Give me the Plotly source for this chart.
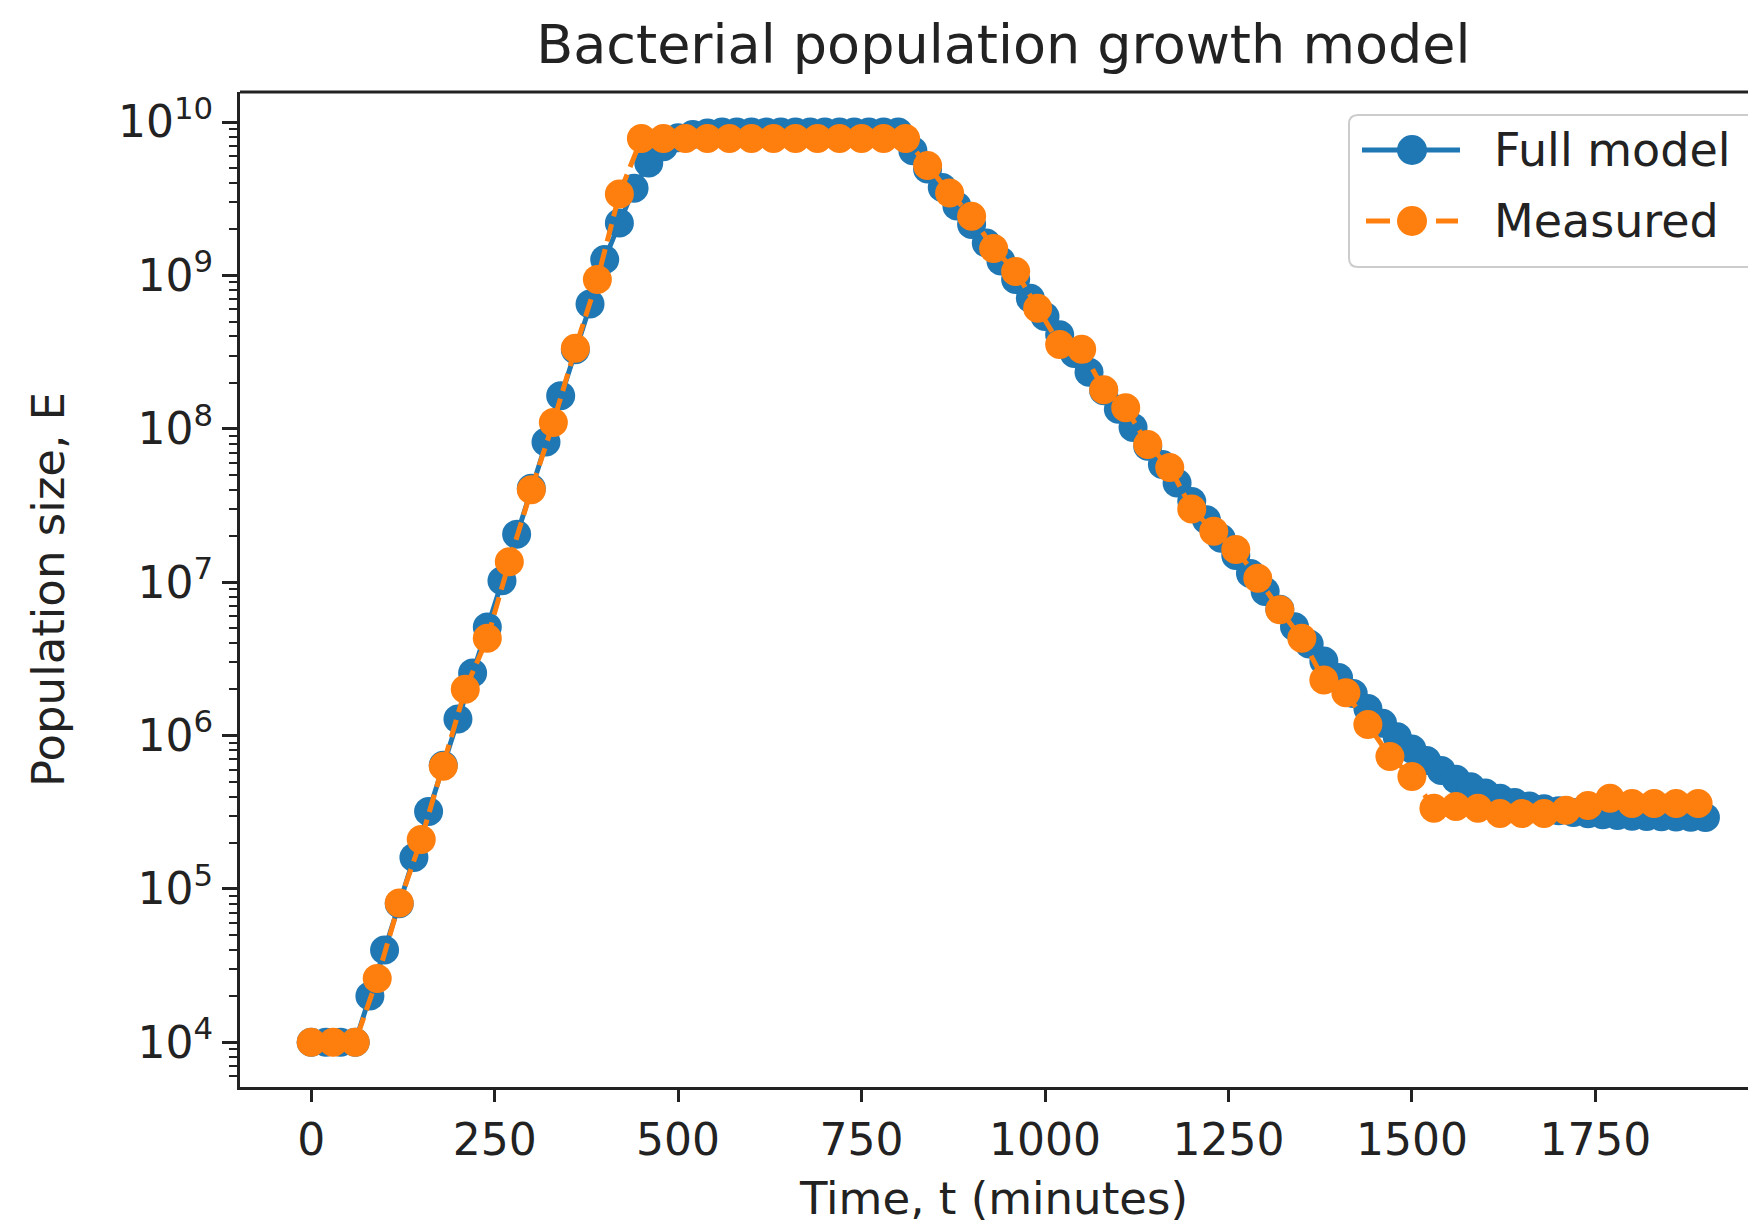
import plotly.graph_objects as go

# ---- data ----
time_model = [0, 20, 40, 60, 80, 100, 120, 140, 160, 180,
              200, 220, 240, 260, 280, 300, 320, 340, 360, 380,
              400, 420, 440, 460, 480, 500, 520, 540, 560, 580,
              600, 620, 640, 660, 680, 700, 720, 740, 760, 780,
              800, 820, 840, 860, 880, 900, 920, 940, 960, 980,
              1000, 1020, 1040, 1060, 1080, 1100, 1120, 1140, 1160, 1180,
              1200, 1220, 1240, 1260, 1280, 1300, 1320, 1340, 1360, 1380,
              1400, 1420, 1440, 1460, 1480, 1500, 1520, 1540, 1560, 1580,
              1600, 1620, 1640, 1660, 1680, 1700, 1720, 1740, 1760, 1780,
              1800, 1820, 1840, 1860, 1880, 1900]
pop_model = [1.0e4, 1.0e4, 1.0e4, 1.0e4, 2.0e4, 4.0e4, 8.0e4, 1.6e5, 3.2e5, 6.4e5,
             1.28e6, 2.56e6, 5.1e6, 1.02e7, 2.05e7, 4.1e7, 8.2e7, 1.64e8, 3.27e8, 6.5e8,
             1.27e9, 2.2e9, 3.7e9, 5.4e9, 6.9e9, 7.9e9, 8.3e9, 8.5e9, 8.6e9, 8.6e9,
             8.6e9, 8.6e9, 8.6e9, 8.6e9, 8.6e9, 8.6e9, 8.6e9, 8.6e9, 8.6e9, 8.6e9,
             8.6e9, 6.5e9, 4.94e9, 3.74e9, 2.84e9, 2.15e9, 1.63e9, 1.24e9, 9.4e8, 7.1e8,
             5.4e8, 4.1e8, 3.1e8, 2.34e8, 1.77e8, 1.34e8, 1.02e8, 7.7e7, 5.85e7, 4.43e7,
             3.36e7, 2.55e7, 1.93e7, 1.49e7, 1.14e7, 8.7e6, 6.66e6, 5.12e6, 3.95e6, 3.06e6,
             2.39e6, 1.88e6, 1.50e6, 1.2e6, 9.8e5, 8.15e5, 6.88e5, 5.92e5, 5.19e5, 4.63e5,
             4.21e5, 3.9e5, 3.66e5, 3.47e5, 3.33e5, 3.23e5, 3.15e5, 3.09e5, 3.04e5, 3.01e5,
             2.98e5, 2.96e5, 2.95e5, 2.94e5, 2.93e5, 2.92e5]

time_measured = [0, 30, 60, 90, 120, 150, 180, 210, 240, 270,
                 300, 330, 360, 390, 420, 450, 480, 510, 540, 570,
                 600, 630, 660, 690, 720, 750, 780, 810, 840, 870,
                 900, 930, 960, 990, 1020, 1050, 1080, 1110, 1140, 1170,
                 1200, 1230, 1260, 1290, 1320, 1350, 1380, 1410, 1440, 1470,
                 1500, 1530, 1560, 1590, 1620, 1650, 1680, 1710, 1740, 1770,
                 1800, 1830, 1860, 1890]
pop_measured = [1.0e4, 1.0e4, 1.0e4, 2.6e4, 8.1e4, 2.1e5, 6.3e5, 2.0e6, 4.3e6, 1.36e7,
                4.0e7, 1.1e8, 3.35e8, 9.4e8, 3.4e9, 7.8e9, 7.8e9, 7.8e9, 7.8e9, 7.8e9,
                7.8e9, 7.8e9, 7.8e9, 7.8e9, 7.8e9, 7.8e9, 7.8e9, 7.8e9, 5.2e9, 3.45e9,
                2.43e9, 1.5e9, 1.06e9, 6.1e8, 3.55e8, 3.3e8, 1.8e8, 1.37e8, 7.9e7, 5.6e7,
                3.0e7, 2.15e7, 1.63e7, 1.06e7, 6.6e6, 4.3e6, 2.3e6, 1.9e6, 1.18e6, 7.3e5,
                5.4e5, 3.35e5, 3.45e5, 3.35e5, 3.1e5, 3.1e5, 3.1e5, 3.25e5, 3.5e5, 3.9e5,
                3.6e5, 3.6e5, 3.6e5, 3.6e5]

series_names = ["Full model", "Measured"]
series_colors = ["#1f77b4", "#ff7f0e"]

x_tick_vals = [0, 250, 500, 750, 1000, 1250, 1500, 1750]
y_tick_vals = [1e4, 1e5, 1e6, 1e7, 1e8, 1e9, 1e10]
y_tick_text = ["10<sup>4</sup>", "10<sup>5</sup>", "10<sup>6</sup>", "10<sup>7</sup>",
               "10<sup>8</sup>", "10<sup>9</sup>", "10<sup>10</sup>"]

FONT = "DejaVu Sans"
INK = "#222222"
W, H = 1748, 1231
ML, MR, MT, MB = 240, 0, 92, 144
PW, PH = W - ML - MR, H - MT - MB


def px(x):
    return (x - ML) / PW


def py(y):
    return (H - MB - y) / PH


fig = go.Figure()
fig.add_trace(go.Scatter(
    x=time_model, y=pop_model, mode="lines+markers", name=series_names[0],
    line=dict(color=series_colors[0], width=5),
    marker=dict(size=29, color=series_colors[0]), showlegend=False,
))
fig.add_trace(go.Scatter(
    x=time_measured, y=pop_measured, mode="lines+markers", name=series_names[1],
    line=dict(color=series_colors[1], width=5, dash="18px,8px"),
    marker=dict(size=29, color=series_colors[1]), showlegend=False,
))

fig.update_layout(
    width=W, height=H,
    margin=dict(l=ML, r=MR, t=MT, b=MB),
    paper_bgcolor="white", plot_bgcolor="white",
    font=dict(family=FONT, color=INK, size=44),
    title=dict(text="Bacterial population growth model", font=dict(size=54, color=INK),
               x=0.574, xref="container", xanchor="center",
               y=0.9638, yref="container", yanchor="middle"),
    xaxis=dict(range=[-97, 1958], tickvals=x_tick_vals, ticks="outside", ticklen=12,
               tickwidth=3, tickcolor=INK, showline=True, linewidth=3, linecolor=INK,
               showgrid=False, zeroline=False, tickfont=dict(size=44),
               title=dict(text="Time, t (minutes)", font=dict(size=45), standoff=19)),
    yaxis=dict(type="log", range=[3.708, 10.196], tickvals=y_tick_vals, ticktext=y_tick_text,
               ticks="outside", ticklen=15, tickwidth=3, tickcolor=INK,
               minor=dict(ticks="outside", ticklen=8, tickwidth=2, tickcolor=INK,
                          dtick="D1", showgrid=False),
               showline=True, linewidth=3, linecolor=INK,
               showgrid=False, zeroline=False, tickfont=dict(size=44),
               title=dict(text="Population size, E", font=dict(size=45), standoff=40)),
    showlegend=False,
)

# top spine (the right spine lies outside the cropped picture)
fig.add_shape(type="line", xref="paper", yref="paper", x0=0, x1=1, y0=1, y1=1,
              line=dict(color=INK, width=3))

# legend box (rounded, cut off by the right edge as in the reference)
bx0, bx1, by0, by1, r = 1349, 1770, 115, 267, 9
rx, ry = r / PW, r / PH
path = (f"M{px(bx1)},{py(by0)} L{px(bx0) + rx},{py(by0)} "
        f"Q{px(bx0)},{py(by0)} {px(bx0)},{py(by0) - ry} "
        f"L{px(bx0)},{py(by1) + ry} "
        f"Q{px(bx0)},{py(by1)} {px(bx0) + rx},{py(by1)} "
        f"L{px(bx1)},{py(by1)}")
fig.add_shape(type="path", xref="paper", yref="paper", path=path + " Z",
              fillcolor="rgba(255,255,255,0.85)", line=dict(width=0), layer="above")
fig.add_shape(type="path", xref="paper", yref="paper", path=path,
              line=dict(color="#cccccc", width=2), layer="above")

entry_y = [150, 221]
for i, (name, col) in enumerate(zip(series_names, series_colors)):
    yy = py(entry_y[i])
    if i == 0:
        fig.add_shape(type="line", xref="paper", yref="paper", x0=px(1362), x1=px(1460),
                      y0=yy, y1=yy, line=dict(color=col, width=5), layer="above")
    else:
        for a, b in [(1366, 1390), (1436, 1458)]:
            fig.add_shape(type="line", xref="paper", yref="paper", x0=px(a), x1=px(b),
                          y0=yy, y1=yy, line=dict(color=col, width=5), layer="above")
    fig.add_shape(type="circle", xref="paper", yref="paper",
                  x0=px(1412 - 15), x1=px(1412 + 15), y0=py(entry_y[i] + 15), y1=py(entry_y[i] - 15),
                  fillcolor=col, line=dict(width=0), layer="above")
    fig.add_annotation(xref="paper", yref="paper", x=px(1492), y=yy, xanchor="left",
                       yanchor="middle", text=name, showarrow=False,
                       font=dict(size=46, color=INK, family=FONT))

fig.write_html("out.html")
